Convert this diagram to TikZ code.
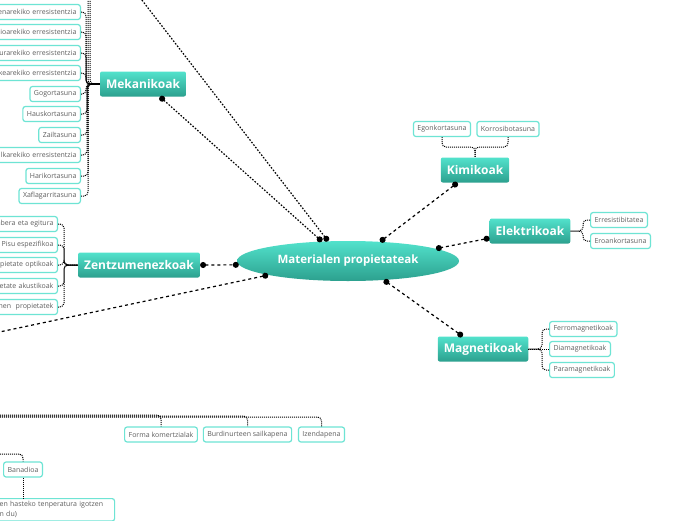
\documentclass[tikz,border=0pt]{standalone}
\usepackage{fontspec}
\setmainfont{Open Sans}
\usetikzlibrary{arrows.meta,shapes.geometric}

\definecolor{tealtop}{RGB}{82,226,204}
\definecolor{tealbot}{RGB}{44,160,142}
\definecolor{leafline}{RGB}{110,228,212}
\definecolor{leaftext}{RGB}{95,95,95}

\begin{document}
\begin{tikzpicture}[x=1pt, y=-1pt,
    root/.style={ellipse, top color=tealtop, bottom color=tealbot, text=white, font=\bfseries\fontsize{11.5}{13}\selectfont, minimum width=222pt, minimum height=40pt},
    branch/.style={rectangle, rounded corners=2pt, top color=tealtop, bottom color=tealbot, text=white, font=\bfseries\fontsize{12}{14}\selectfont, minimum height=25pt, inner xsep=6pt},
    leaf/.style={rectangle, rounded corners=2.5pt, draw=leafline, line width=1.2pt, fill=white, text=leaftext, font=\fontsize{7}{10}\selectfont, minimum height=15pt, inner xsep=4pt, inner ysep=2pt},
    cut/.style={leaf, text width=80pt, align=right},
    link/.style={line width=1.2pt, dash pattern=on 3pt off 3pt, {Circle[length=6pt]}-{Circle[length=6pt]}},
    dotlink/.style={line width=1.2pt, dash pattern=on 1.6pt off 1.6pt, {Circle[length=6pt]}-{Circle[length=6pt]}},
    twig/.style={line width=1pt, dash pattern=on 1pt off 1pt, rounded corners=4pt}
]
    \path[use as bounding box, fill=white] (0,0) rectangle (696,520);
    \clip (0,0) rectangle (696,520);

    % Root and branches
    \node[root] (mat) at (348,261) {Materialen propietateak};
    \node[branch] (mek) at (143,84) {Mekanikoak};
    \node[branch] (kim) at (475,170) {Kimikoak};
    \node[branch] (ele) at (530,231) {Elektrikoak};
    \node[branch] (mag) at (483,349) {Magnetikoak};
    \node[branch] (zen) at (139,265) {Zentzumenezkoak};

    % Off-page ends
    \coordinate (offA) at (138,-5);
    \coordinate (offB) at (-10,334);

    % Root links
    \draw[dotlink] (mek.-37) -- (mat.143);
    \draw[dotlink, -{Circle[length=6pt]}] (offA) -- (mat.135);
    \draw[link] (kim.216) -- (mat.31);
    \draw[link] (ele.190) -- (mat.8);
    \draw[link] (mag.148) -- (mat.-28);
    \draw[link] (zen.east) -- (mat.182);
    \draw[link, -{Circle[length=6pt]}] (offB) -- (mat.190);

    % Mekanikoak
    \node[cut, anchor=east] (m1) at (81,12) {enarekiko erresistentzia};
    \node[cut, anchor=east] (m2) at (81,32) {ioarekiko erresistentzia};
    \node[cut, anchor=east] (m3) at (81,53) {urarekiko erresistentzia};
    \node[cut, anchor=east] (m4) at (81,73) {kearekiko erresistentzia};
    \node[leaf, anchor=east] (m5) at (81,94) {Gogortasuna};
    \node[leaf, anchor=east] (m6) at (81,114) {Hauskortasuna};
    \node[leaf, anchor=east] (m7) at (81,135) {Zailtasuna};
    \node[cut, anchor=east] (m8) at (81,155) {lkarekiko erresistentzia};
    \node[leaf, anchor=east] (m9) at (81,176) {Harikortasuna};
    \node[leaf, anchor=east] (m10) at (81,196) {Xaflagarritasuna};
    \draw[twig] (m1.east) -- ++(5,0) |- (mek.west);
    \draw[twig] (m2.east) -- ++(5,0) |- (mek.west);
    \draw[twig] (m3.east) -- ++(5,0) |- (mek.west);
    \draw[twig] (m4.east) -- ++(5,0) |- (mek.west);
    \draw[twig] (m5.east) -- ++(5,0) |- (mek.west);
    \draw[twig] (m6.east) -- ++(6,0) |- (mek.west);
    \draw[twig] (m7.east) -- ++(6,0) |- (mek.west);
    \draw[twig] (m8.east) -- ++(6,0) |- (mek.west);
    \draw[twig] (m9.east) -- ++(7,0) |- (mek.west);
    \draw[twig] (m10.east) -- ++(7,0) |- (mek.west);
    \draw[twig] (mek.west) -| (88,-10);
    \draw[twig] (mek.west) -| (90,-10);
    \draw[line width=1.5pt] (mek.west) -- ++(-9,0);

    % Zentzumenezkoak
    \node[cut, anchor=east] (z1) at (58,224) {abera eta egitura};
    \node[leaf, anchor=east] (z2) at (58,245) {Pisu espezifikoa};
    \node[cut, anchor=east] (z3) at (58,265) {pietate optikoak};
    \node[cut, anchor=east] (z4) at (58,286) {etate akustikoak};
    \node[cut, anchor=east] (z5) at (58,307) {nen\ \ propietatek};
    \draw[twig] (z1.east) -- ++(6,0) |- (zen.west);
    \draw[twig] (z2.east) -- ++(6,0) |- (zen.west);
    \draw[twig] (z3.east) -- ++(6,0) |- (zen.west);
    \draw[twig] (z4.east) -- ++(6,0) |- (zen.west);
    \draw[twig] (z5.east) -- ++(6,0) |- (zen.west);

    % Kimikoak
    \node[leaf] (k1) at (442,129) {Egonkortasuna};
    \node[leaf] (k2) at (508,129) {Korrosibotasuna};
    \coordinate (kimj) at (475,147);
    \draw[twig] (k1.south) |- (kimj) -- (kim.north);
    \draw[twig] (k2.south) |- (kimj) -- (kim.north);

    % Elektrikoak
    \node[leaf, anchor=west] (e1) at (590,220) {Erresistibitatea};
    \node[leaf, anchor=west] (e2) at (590,241) {Eroankortasuna};
    \draw[twig] (e1.west) -- ++(-7,0) |- (ele.east);
    \draw[twig] (e2.west) -- ++(-7,0) |- (ele.east);

    % Magnetikoak
    \node[leaf, anchor=west] (g1) at (549,329) {Ferromagnetikoak};
    \node[leaf, anchor=west] (g2) at (549,349) {Diamagnetikoak};
    \node[leaf, anchor=west] (g3) at (549,370) {Paramagnetikoak};
    \draw[twig] (g1.west) -- ++(-7,0) |- (mag.east);
    \draw[twig] (g2.west) -- (mag.east);
    \draw[twig] (g3.west) -- ++(-7,0) |- (mag.east);

    % Bottom branch
    \node[leaf] (b1) at (161,434.5) {Forma komertzialak};
    \node[leaf] (b2) at (247.5,434.5) {Burdinurteen sailkapena};
    \node[leaf] (b3) at (321.5,434.5) {Izendapena};
    \draw[twig] (-10,415) -| (b1.north);
    \draw[twig] (-10,416) -| (b2.north);
    \draw[twig] (-10,417) -| (b3.north);

    \node[leaf] (ban) at (23,469.5) {Banadioa};
    \node[leaf, anchor=north west, text width=110pt, inner xsep=5pt, inner ysep=3pt, align=left] (big) at (-6,498) {en hasteko tenperatura igotzen\\n du)};
    \draw[twig] (-10,454) -| (ban.north);
    \draw[twig] (ban.south) -- (ban.south |- big.north);

\end{tikzpicture}
\end{document}
